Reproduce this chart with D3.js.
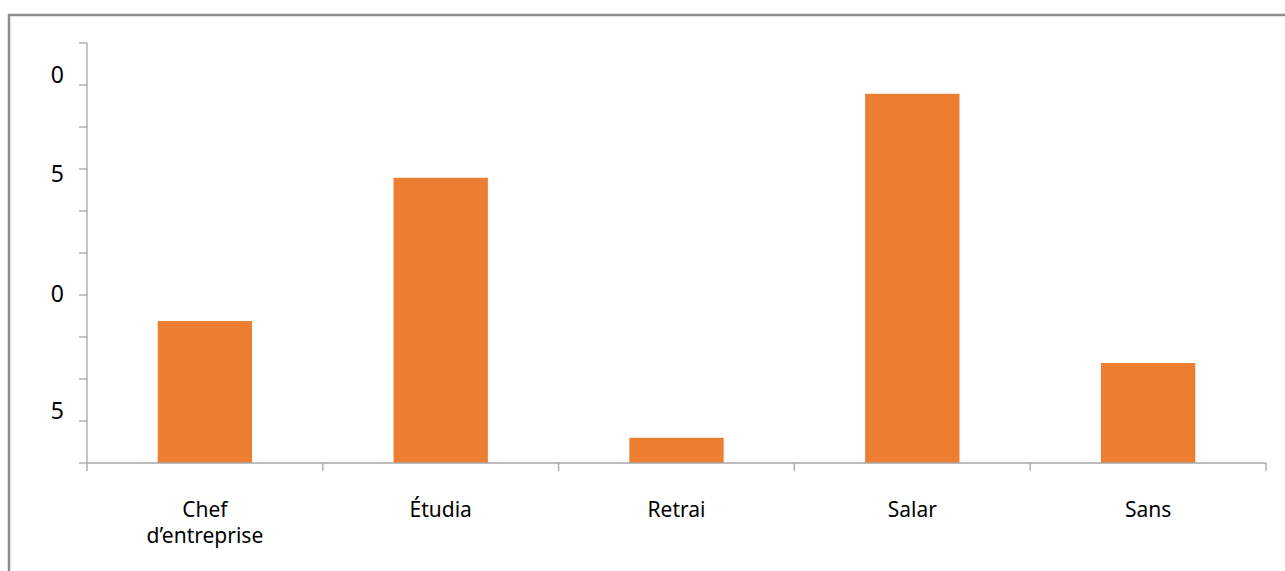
<!DOCTYPE html>
<html>
<head>
<meta charset="utf-8">
<script src="https://cdn.jsdelivr.net/npm/d3@7"></script>
<style>
  body { margin: 0; background: #fff; }
  text { font-family: "Noto Sans", sans-serif; fill: #000; }
</style>
</head>
<body>
<svg width="1285" height="571"></svg>
<script>
// categories and values (in tick units)
var categories = ["Chef\nd\u2019entreprise", "\u00c9tudia", "Retrai", "Salar", "Sans"];
var values = [3.38, 6.79, 0.6, 8.79, 2.38];

// the y axis has a tick every unit; the (cut off) labels sit at their own heights
var yTicks = [0, 1, 2, 3, 4, 5, 6, 7, 8, 9, 10];
var yLabelAt = [1.24, 4.04, 6.88, 9.24];
var yLabelText = ["5", "0", "5", "0"];

var svg = d3.select("svg");

// outer frame
svg.append("rect")
  .attr("x", 9).attr("y", 15)
  .attr("width", 1300).attr("height", 600)
  .attr("fill", "none")
  .attr("stroke", "#8c8c8c")
  .attr("stroke-width", 2.5);

var plotLeft = 87, plotRight = 1266, plotTop = 43, plotBottom = 463;

var x = d3.scaleBand()
  .domain(categories)
  .range([plotLeft, plotRight])
  .paddingInner(0.6)
  .paddingOuter(0.3);

var xTicks = d3.scalePoint()
  .domain(d3.range(categories.length + 1))
  .range([plotLeft, plotRight]);

var y = d3.scaleLinear()
  .domain([0, 10])
  .range([plotBottom, plotTop]);

// bars
svg.append("g")
  .selectAll("rect")
  .data(values)
  .enter().append("rect")
    .attr("x", function(d, i) { return x(categories[i]); })
    .attr("width", x.bandwidth())
    .attr("y", function(d) { return y(d); })
    .attr("height", function(d) { return y(0) - y(d); })
    .attr("fill", "#ed7d31");

var axisColor = "#a6a6a6";

// y axis line and ticks
var yAxis = svg.append("g");
yAxis.append("line")
  .attr("x1", plotLeft).attr("x2", plotLeft)
  .attr("y1", y(10)).attr("y2", y(0))
  .attr("stroke", axisColor).attr("stroke-width", 1.3);
yAxis.selectAll(".tick")
  .data(yTicks)
  .enter().append("line")
    .attr("x1", plotLeft - 8).attr("x2", plotLeft)
    .attr("y1", function(d) { return y(d); })
    .attr("y2", function(d) { return y(d); })
    .attr("stroke", axisColor).attr("stroke-width", 1.3);
yAxis.selectAll("text")
  .data(yLabelAt)
  .enter().append("text")
    .attr("x", 64)
    .attr("y", function(d) { return y(d); })
    .attr("dy", "0.36em")
    .attr("text-anchor", "end")
    .style("font-size", "23px")
    .text(function(d, i) { return yLabelText[i]; });

// x axis line and ticks
var xAxis = svg.append("g");
xAxis.append("line")
  .attr("x1", plotLeft).attr("x2", plotRight)
  .attr("y1", y(0)).attr("y2", y(0))
  .attr("stroke", axisColor).attr("stroke-width", 1.3);
xAxis.selectAll(".tick")
  .data(xTicks.domain())
  .enter().append("line")
    .attr("x1", function(d) { return xTicks(d); })
    .attr("x2", function(d) { return xTicks(d); })
    .attr("y1", y(0)).attr("y2", y(0) + 8)
    .attr("stroke", axisColor).attr("stroke-width", 1.3);

var labels = xAxis.selectAll("text")
  .data(categories)
  .enter().append("text")
    .attr("text-anchor", "middle")
    .style("font-size", "21px");
labels.each(function(d) {
  var t = d3.select(this);
  d.split("\n").forEach(function(line, j) {
    t.append("tspan")
      .attr("x", x(d) + x.bandwidth() / 2)
      .attr("y", 517 + j * 26)
      .text(line);
  });
});
</script>
</body>
</html>
